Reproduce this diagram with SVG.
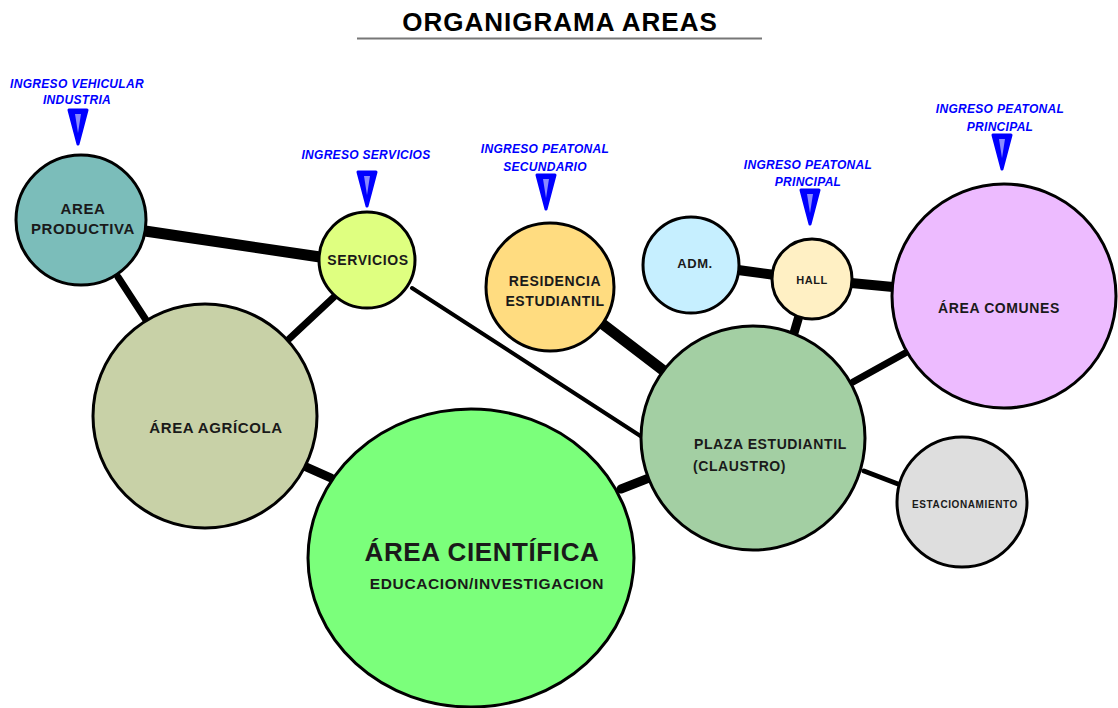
<svg xmlns="http://www.w3.org/2000/svg" width="1118" height="708" viewBox="0 0 1118 708">
<style>
.node{stroke:#000;stroke-width:3}
.lbl{font-family:"Liberation Sans",Arial,sans-serif;font-weight:bold;fill:#1a1a1a;text-anchor:middle;letter-spacing:0.6px}
.lbl.start{text-anchor:start}
.ing{font-family:"Liberation Sans",Arial,sans-serif;font-weight:bold;font-style:italic;fill:#0000ff;font-size:12px;text-anchor:middle;letter-spacing:0.3px}
.con{stroke:#000;stroke-linecap:round;fill:none}
.tri{fill:#0000ff;stroke:#0000ff;stroke-width:3;stroke-linejoin:round}
.tri2{fill:#8a8aff}
</style>
<defs>
<g id="arrow">
<polygon class="tri" points="-9,-17 9,-17 0,17"/>
<polygon class="tri2" points="-3,-13 3,-13 0,6"/>
</g>
</defs>
<rect width="1118" height="708" fill="#fff"/>
<g id="title">
<text x="560" y="31" font-family="'Liberation Sans',Arial,sans-serif" font-weight="bold" font-size="26" letter-spacing="1" text-anchor="middle" fill="#000">ORGANIGRAMA AREAS</text>
<line x1="357" y1="38.5" x2="762" y2="38.5" stroke="#777" stroke-width="2"/>
</g>
<g id="connectors">
<line class="con" x1="145" y1="231" x2="320" y2="257" stroke-width="11"/>
<line class="con" x1="118" y1="277" x2="146" y2="320" stroke-width="7"/>
<line class="con" x1="335" y1="296" x2="289" y2="339" stroke-width="7"/>
<line class="con" x1="412" y1="288" x2="642" y2="437" stroke-width="4"/>
<line class="con" x1="304" y1="466" x2="331" y2="478" stroke-width="9"/>
<line class="con" x1="621" y1="489" x2="649" y2="478" stroke-width="9"/>
<line class="con" x1="600" y1="322" x2="664" y2="371" stroke-width="11"/>
<line class="con" x1="738" y1="270" x2="775" y2="275" stroke-width="10"/>
<line class="con" x1="799" y1="316" x2="794" y2="333" stroke-width="9"/>
<line class="con" x1="851" y1="283" x2="893" y2="287" stroke-width="10"/>
<line class="con" x1="853" y1="382" x2="907" y2="352" stroke-width="7"/>
<line class="con" x1="864" y1="471" x2="898" y2="484" stroke-width="5"/>
</g>
<g id="area-productiva">
<circle class="node" cx="81" cy="220" r="65" fill="#7BBDBA"/>
<text class="lbl" x="83" y="214" font-size="15">AREA</text>
<text class="lbl" x="83" y="234" font-size="15">PRODUCTIVA</text>
</g>
<g id="servicios">
<circle class="node" cx="367" cy="260" r="48" fill="#DFFF80"/>
<text class="lbl" x="368" y="265" font-size="14">SERVICIOS</text>
</g>
<g id="area-agricola">
<circle class="node" cx="205" cy="416" r="112" fill="#C8D1A7"/>
<text class="lbl" x="216" y="433" font-size="15">ÁREA AGRÍCOLA</text>
</g>
<g id="area-cientifica">
<ellipse class="node" cx="471" cy="558" rx="163" ry="149" fill="#7BFF7B"/>
<text class="lbl" x="482" y="561" font-size="26">ÁREA CIENTÍFICA</text>
<text class="lbl" x="487" y="589" font-size="15.5">EDUCACION/INVESTIGACION</text>
</g>
<g id="residencia">
<circle class="node" cx="550" cy="287" r="64" fill="#FFDC80"/>
<text class="lbl" x="555" y="286" font-size="14">RESIDENCIA</text>
<text class="lbl" x="555" y="306" font-size="14">ESTUDIANTIL</text>
</g>
<g id="adm">
<circle class="node" cx="691" cy="265" r="48" fill="#C6EFFF"/>
<text class="lbl" x="695" y="268" font-size="13">ADM.</text>
</g>
<g id="hall">
<circle class="node" cx="812" cy="279" r="40" fill="#FFF0C4"/>
<text class="lbl" x="812" y="284" font-size="11">HALL</text>
</g>
<g id="area-comunes">
<circle class="node" cx="1004" cy="296" r="112" fill="#EDBBFF"/>
<text class="lbl" x="999" y="313" font-size="14">ÁREA COMUNES</text>
</g>
<g id="plaza">
<circle class="node" cx="753" cy="438" r="112" fill="#A3CFA3"/>
<text class="lbl start" x="694" y="449" font-size="14">PLAZA ESTUDIANTIL</text>
<text class="lbl start" x="693" y="471" font-size="14">(CLAUSTRO)</text>
</g>
<g id="estacionamiento">
<circle class="node" cx="962" cy="502" r="65" fill="#DEDEDE"/>
<text class="lbl" x="965" y="508" font-size="10" letter-spacing="0.3">ESTACIONAMIENTO</text>
</g>
<g id="ingreso-vehicular">
<text class="ing" x="77" y="88">INGRESO VEHICULAR</text>
<text class="ing" x="77" y="104">INDUSTRIA</text>
<use href="#arrow" x="78" y="127"/>
</g>
<g id="ingreso-servicios">
<text class="ing" x="366" y="159">INGRESO SERVICIOS</text>
<use href="#arrow" x="367" y="189"/>
</g>
<g id="ingreso-peatonal-secundario">
<text class="ing" x="545" y="153">INGRESO PEATONAL</text>
<text class="ing" x="545" y="171">SECUNDARIO</text>
<use href="#arrow" x="546" y="192"/>
</g>
<g id="ingreso-peatonal-hall">
<text class="ing" x="808" y="169">INGRESO PEATONAL</text>
<text class="ing" x="808" y="186">PRINCIPAL</text>
<use href="#arrow" x="810" y="207"/>
</g>
<g id="ingreso-peatonal-comunes">
<text class="ing" x="1000" y="113">INGRESO PEATONAL</text>
<text class="ing" x="1000" y="131">PRINCIPAL</text>
<use href="#arrow" x="1002" y="152"/>
</g>
</svg>
